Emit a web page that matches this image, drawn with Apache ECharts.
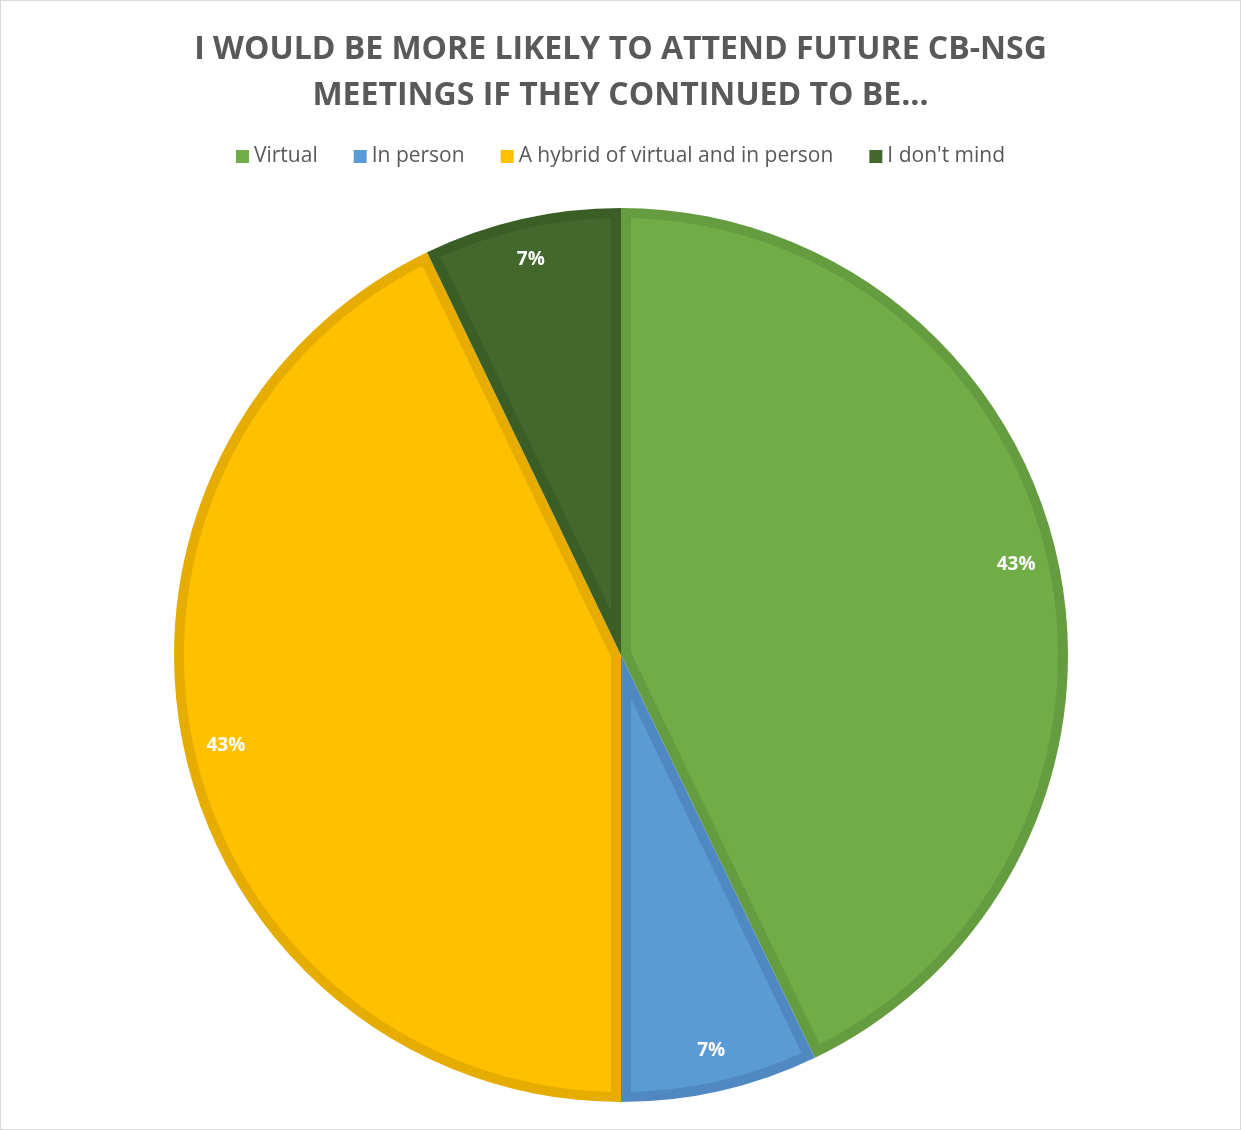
<!DOCTYPE html>
<html>
<head>
<meta charset="utf-8">
<script src="https://cdn.jsdelivr.net/npm/echarts@6/dist/echarts.min.js"></script>
<style>
  html, body { margin: 0; padding: 0; background: #fff; }
  #chart { width: 1239px; height: 1128px; border: 1px solid #d9d9d9; }
</style>
</head>
<body>
<div id="chart"></div>
<script>
// data (counts -> 6/14 = 43%, 1/14 = 7%)
const categories = ['Virtual', 'In person', 'A hybrid of virtual and in person', "I don't mind"];
const counts = [6, 1, 6, 1];
const fillColors = ['#70AD47', '#5B9BD5', '#FFC000', '#43682B'];
const edgeColors = ['#649C3F', '#5089C2', '#E6AD00', '#3B5D26'];

const FONT = '"Open Sans", "Liberation Sans", sans-serif';
const CX = 620, CY = 654, R = 447, EDGE = 10;

const total = counts.reduce((a, b) => a + b, 0);
// cumulative angles, clockwise from 12 o'clock (same as pie startAngle 90)
const starts = [];
let acc = 0;
counts.forEach(v => { starts.push(acc / total * Math.PI * 2); acc += v; });

const pt = (r, a, ox, oy) => [ox + r * Math.sin(a), oy - r * Math.cos(a)];

// inner part of each slice, inset by EDGE so the darker rim stays visible
function renderInner(params, api) {
  const i = params.dataIndex;
  const a1 = starts[i];
  const a2 = a1 + api.value(0) / total * Math.PI * 2;
  const half = (a2 - a1) / 2;
  const rIn = R - EDGE;
  const off = Math.asin(EDGE / rIn);
  const apex = pt(EDGE / Math.sin(half), a1 + half, CX, CY);
  const pts = [apex];
  const n = 120;
  for (let k = 0; k <= n; k++) {
    const a = a1 + off + (a2 - a1 - 2 * off) * k / n;
    pts.push(pt(rIn, a, CX, CY));
  }
  return {
    type: 'polygon',
    shape: { points: pts },
    style: { fill: fillColors[i] },
    silent: true
  };
}

const chart = echarts.init(document.getElementById('chart'));
chart.setOption({
  animation: false,
  title: {
    text: 'I WOULD BE MORE LIKELY TO ATTEND FUTURE CB-NSG\nMEETINGS IF THEY CONTINUED TO BE...',
    left: 'center',
    top: 21,
    textStyle: {
      fontFamily: FONT, fontSize: 32, fontWeight: 'bold', color: '#595959', lineHeight: 46
    }
  },
  legend: {
    top: 140,
    left: 'center',
    icon: 'rect',
    itemWidth: 13,
    itemHeight: 13,
    itemGap: 36,
    selectedMode: false,
    textStyle: { fontFamily: FONT, fontSize: 21, color: '#595959' },
    data: categories.map((c, i) => ({ name: c, itemStyle: { color: fillColors[i] } }))
  },
  series: [
    {
      type: 'pie',
      z: 1,
      center: [CX, CY],
      radius: R,
      startAngle: 90,
      silent: true,
      label: { show: false },
      labelLine: { show: false },
      data: categories.map((c, i) => ({ name: c, value: counts[i], itemStyle: { color: edgeColors[i] } }))
    },
    {
      type: 'custom',
      z: 2,
      coordinateSystem: 'none',
      silent: true,
      renderItem: renderInner,
      data: counts.map(v => [v])
    },
    {
      type: 'pie',
      z: 3,
      center: [CX, CY],
      radius: [R * 0.8, R],
      startAngle: 90,
      silent: true,
      itemStyle: { color: 'rgba(0,0,0,0)' },
      label: {
        show: true,
        position: 'inside',
        formatter: p => Math.round(p.percent) + '%',
        color: '#fff',
        fontFamily: FONT,
        fontSize: 19,
        fontWeight: 'bold'
      },
      labelLine: { show: false },
      data: categories.map((c, i) => ({ name: c, value: counts[i] }))
    }
  ]
});
</script>
</body>
</html>
